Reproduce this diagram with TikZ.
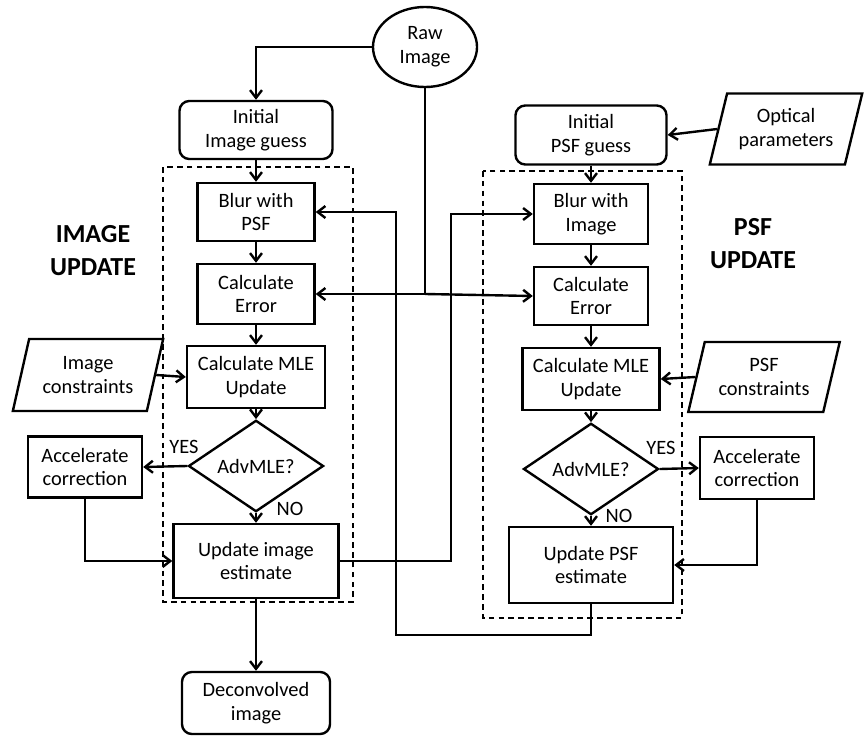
\documentclass[tikz,border=0pt]{standalone}
\usepackage{fontspec}
\setmainfont{Carlito}
\usetikzlibrary{positioning, arrows.meta, shapes.geometric}

\begin{document}
\begin{tikzpicture}[x=0.025cm, y=-0.025cm, ->, >={Straight Barb[length=5.5pt,width=8.5pt]},
    line width=1.7pt, font=\fontsize{14.5}{17}\selectfont,
    box/.style={draw, rectangle, align=center, inner sep=2pt},
    rbox/.style={box, rounded corners=7pt},
    ask/.style={draw, diamond, align=center, inner sep=0pt, minimum width=3.375cm, minimum height=1.85cm},
    io/.style={draw, trapezium, trapezium left angle=72, trapezium right angle=108, trapezium stretches=true, align=center, inner sep=1pt},
    frame/.style={-, draw, line width=0.9pt, dash pattern=on 4pt off 3pt},
    title/.style={font=\fontsize{18.5}{23.5}\selectfont\bfseries, align=center}]
  \useasboundingbox (0,0) rectangle (866,735);

  % update frames
  \draw[frame] (163,167) rectangle (353,602);
  \draw[frame] (483,171) rectangle (682,618);

  \node[draw, ellipse, minimum width=2.6cm, minimum height=2cm, inner sep=0pt, align=center] (raw) at (425,47) {Raw\\Image};

  % image side
  \node[rbox, minimum width=3.825cm, minimum height=1.45cm] (iniImg) at (256,130) {Initial\\Image guess};
  \node[box, minimum width=2.925cm, minimum height=1.45cm] (blurPSF) at (256,212) {Blur with\\PSF};
  \node[box, minimum width=2.925cm, minimum height=1.5cm] (errL) at (256,294) {Calculate\\Error};
  \node[box, minimum width=3.45cm, minimum height=1.55cm] (mleL) at (256,377) {Calculate MLE\\Update};
  \node[ask] (advL) at (256,466) {AdvMLE?};
  \node[box, minimum width=4.125cm, minimum height=1.85cm] (updImg) at (256,561) {Update image\\estimate};
  \node[rbox, minimum width=3.7cm, minimum height=1.55cm] (decon) at (256,703) {Deconvolved\\image};
  \node[box, minimum width=2.85cm, minimum height=1.525cm] (accL) at (85,467) {Accelerate\\correction};
  \node[io, minimum width=3.775cm, minimum height=1.8cm] (imgcon) at (88,375) {Image\\constraints};
  \node[title] (imgT) at (93,251) {IMAGE\\UPDATE};

  % psf side
  \node[rbox, minimum width=3.775cm, minimum height=1.475cm] (iniPSF) at (591,135) {Initial\\PSF guess};
  \node[box, minimum width=2.85cm, minimum height=1.5cm] (blurImg) at (591,214) {Blur with\\Image};
  \node[box, minimum width=2.85cm, minimum height=1.45cm] (errR) at (591,296) {Calculate\\Error};
  \node[box, minimum width=3.425cm, minimum height=1.55cm] (mleR) at (591,379) {Calculate MLE\\Update};
  \node[ask] (advR) at (591,469) {AdvMLE?};
  \node[box, minimum width=4.1cm, minimum height=1.9cm] (updPSF) at (591,565) {Update PSF\\estimate};
  \node[io, minimum width=3.825cm, minimum height=1.775cm] (optpar) at (786,129) {Optical\\parameters};
  \node[io, minimum width=3.8cm, minimum height=1.75cm] (psfcon) at (764,377) {PSF\\constraints};
  \node[box, minimum width=2.85cm, minimum height=1.55cm] (accR) at (757,468) {Accelerate\\correction};
  \node[title] (psfT) at (753,244) {PSF\\UPDATE};

  \node (yesL) at (184,447) {YES};
  \node (noL) at (290,509) {NO};
  \node (yesR) at (661,448) {YES};
  \node (noR) at (619,516) {NO};

  \coordinate (jn) at (raw.south |- 0,294);
  \coordinate (bendA) at (451,561);
  \coordinate (bendB) at (396,635);

  % raw image feeds
  \draw (raw.west) -| (iniImg.north);
  \draw[-] (raw.south) -- (jn);
  \draw (jn) -- (errL.east);
  \draw (jn) -- (errR.west);

  \draw (iniImg) -- (blurPSF);
  \draw (blurPSF) -- (errL);
  \draw (errL) -- (mleL);
  \draw (mleL) -- (advL);
  \draw (advL) -- (updImg);
  \draw (updImg) -- (decon);
  \draw (imgcon.east) -- (mleL.west);
  \draw (advL.west) -- (accL.east);
  \draw (accL.south) |- (updImg.west);

  \draw (iniPSF) -- (blurImg);
  \draw (blurImg) -- (errR);
  \draw (errR) -- (mleR);
  \draw (mleR) -- (advR);
  \draw (advR) -- (updPSF);
  \draw (optpar.west) -- (iniPSF.east);
  \draw (psfcon.west) -- (mleR.east);
  \draw (advR.east) -- (accR.west);
  \draw (accR.south) |- (updPSF.east);

  % cross links
  \draw (updImg.east) -- (bendA) |- (blurImg.west);
  \draw (updPSF.south) |- (bendB) |- (blurPSF.east);
\end{tikzpicture}
\end{document}
